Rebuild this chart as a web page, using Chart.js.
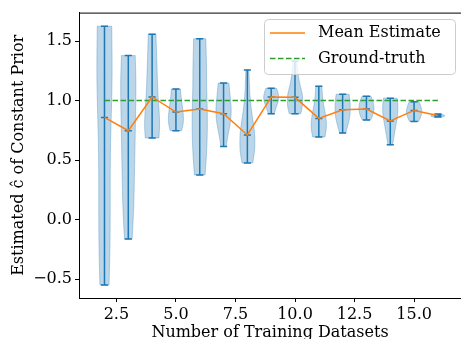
<!DOCTYPE html>
<html>
<head>
<meta charset="utf-8">
<script src="https://cdn.jsdelivr.net/npm/chart.js@4.4.0/dist/chart.umd.min.js"></script>
<style>
    html, body { margin: 0; padding: 0; background: #fff; }
    #wrap { width: 461px; height: 339px; }
</style>
</head>
<body>
<div id="wrap"><canvas id="chart" width="461" height="339"></canvas></div>
<script>
// number of training datasets
const positions = [2, 3, 4, 5, 6, 7, 8, 9, 10, 11, 12, 13, 14, 15, 16];
const maxVals = [1.625, 1.378, 1.558, 1.097, 1.52, 1.147, 1.256, 1.103, 1.33, 1.12, 1.053, 1.036, 1.02, 0.99, 0.886];
const minVals = [-0.55, -0.164, 0.686, 0.747, 0.375, 0.614, 0.475, 0.889, 0.889, 0.694, 0.728, 0.836, 0.628, 0.825, 0.861];
const meanVals = [0.858, 0.747, 1.03, 0.903, 0.928, 0.89, 0.711, 1.03, 1.027, 0.85, 0.922, 0.928, 0.828, 0.917, 0.875];
const groundTruth = 1.0;

// violin half-width profile, bottom (min) to top (max), relative to widest point
const violinShapes = [
    [0.6, 0.7, 0.75, 0.75, 0.75, 0.8, 0.9, 1.0, 1.0, 0.95],
    [0.5, 0.65, 0.75, 0.8, 0.85, 0.9, 0.95, 1.0, 1.0, 0.9],
    [0.9, 1.0, 0.95, 0.85, 0.75, 0.7, 0.65, 0.6, 0.55, 0.5],
    [0.75, 0.95, 1.0, 0.95, 0.85, 0.75, 0.65, 0.6],
    [0.7, 0.85, 0.95, 1.0, 1.0, 0.95, 0.9, 0.9, 0.85, 0.8],
    [0.35, 0.5, 0.7, 0.9, 1.0, 1.0, 0.9, 0.8, 0.7],
    [0.7, 0.95, 1.0, 0.95, 0.75, 0.55, 0.4, 0.3, 0.25, 0.2],
    [0.4, 0.55, 0.75, 0.95, 1.0, 0.9, 0.7],
    [0.75, 0.95, 1.0, 1.0, 0.85, 0.65, 0.5, 0.4, 0.3, 0.25],
    [0.8, 1.0, 1.0, 0.9, 0.7, 0.55, 0.45, 0.4],
    [0.4, 0.6, 0.8, 0.95, 1.0, 1.0, 0.95, 0.85],
    [0.55, 0.8, 0.95, 1.0, 0.95, 0.8, 0.6],
    [0.3, 0.45, 0.6, 0.75, 0.9, 1.0, 1.0, 0.9],
    [0.6, 0.85, 1.0, 1.0, 0.85, 0.65],
    [0.6, 1.0, 0.8, 0.5]
];

const xTicks = [2.5, 5.0, 7.5, 10.0, 12.5, 15.0];
const yTicks = [-0.5, 0.0, 0.5, 1.0, 1.5];

const FONT = "'DejaVu Serif', serif";
const BLUE = '#1f77b4';
const VIOLIN_HALF = 0.32;
const CAP_HALF = 0.15;

function fmt(v) {
    return v.toFixed(1).replace('-', '\u2212');
}

function smoothPath(ctx, pts, start) {
    if (start) ctx.moveTo(pts[0][0], pts[0][1]);
    else ctx.lineTo(pts[0][0], pts[0][1]);
    for (let i = 1; i < pts.length - 1; i++) {
        const mx = (pts[i][0] + pts[i + 1][0]) / 2;
        const my = (pts[i][1] + pts[i + 1][1]) / 2;
        ctx.quadraticCurveTo(pts[i][0], pts[i][1], mx, my);
    }
    const last = pts[pts.length - 1];
    ctx.lineTo(last[0], last[1]);
}

const violinPlugin = {
    id: 'violins',
    beforeDatasetsDraw(chart) {
        const ctx = chart.ctx;
        const xs = chart.scales.x;
        const ys = chart.scales.y;
        ctx.save();
        positions.forEach((pos, i) => {
            const shape = violinShapes[i];
            const n = shape.length;
            const lo = minVals[i], hi = maxVals[i];
            const right = [], left = [];
            for (let k = 0; k < n; k++) {
                const yv = lo + (hi - lo) * k / (n - 1);
                const w = shape[k] * VIOLIN_HALF;
                right.push([xs.getPixelForValue(pos + w), ys.getPixelForValue(yv)]);
                left.push([xs.getPixelForValue(pos - w), ys.getPixelForValue(yv)]);
            }
            ctx.beginPath();
            smoothPath(ctx, right, true);
            smoothPath(ctx, left.reverse(), false);
            ctx.closePath();
            ctx.fillStyle = 'rgba(31,119,180,0.3)';
            ctx.strokeStyle = 'rgba(31,119,180,0.3)';
            ctx.lineWidth = 1;
            ctx.fill();
            ctx.stroke();

            // bar + caps
            const px = xs.getPixelForValue(pos);
            const c0 = xs.getPixelForValue(pos - CAP_HALF);
            const c1 = xs.getPixelForValue(pos + CAP_HALF);
            ctx.strokeStyle = BLUE;
            ctx.lineWidth = 1.5;
            ctx.beginPath();
            ctx.moveTo(px, ys.getPixelForValue(lo));
            ctx.lineTo(px, ys.getPixelForValue(hi));
            [lo, hi, meanVals[i]].forEach(v => {
                const py = ys.getPixelForValue(v);
                ctx.moveTo(c0, py);
                ctx.lineTo(c1, py);
            });
            ctx.stroke();
        });
        ctx.restore();
    },
    afterDraw(chart) {
        const ctx = chart.ctx;
        const area = chart.chartArea;
        ctx.save();
        // top spine
        ctx.strokeStyle = '#000';
        ctx.lineWidth = 1;
        ctx.beginPath();
        ctx.moveTo(area.left, area.top + 0.5);
        ctx.lineTo(area.right, area.top + 0.5);
        ctx.stroke();

        // legend inside the axes, upper right
        const bx = 264, by = 19, bw = 191, bh = 55;
        ctx.beginPath();
        ctx.roundRect(bx + 0.5, by + 0.5, bw, bh, 4);
        ctx.fillStyle = 'rgba(255,255,255,0.8)';
        ctx.fill();
        ctx.strokeStyle = '#cccccc';
        ctx.stroke();
        ctx.font = '16px ' + FONT;
        ctx.textBaseline = 'middle';
        ctx.fillStyle = '#000';
        chart.data.datasets.forEach((ds, i) => {
            const ly = by + 14 + i * 25.5;
            ctx.strokeStyle = ds.borderColor;
            ctx.lineWidth = ds.borderWidth;
            ctx.setLineDash(ds.borderDash || []);
            ctx.beginPath();
            ctx.moveTo(bx + 6, ly);
            ctx.lineTo(bx + 41, ly);
            ctx.stroke();
            ctx.setLineDash([]);
            ctx.fillText(ds.label, bx + 54, ly);
        });
        ctx.restore();
    }
};

new Chart(document.getElementById('chart'), {
    type: 'line',
    data: {
        datasets: [
            {
                label: 'Mean Estimate',
                data: positions.map((p, i) => ({ x: p, y: meanVals[i] })),
                borderColor: '#ff7f0e',
                borderWidth: 1.5,
                pointRadius: 0,
                fill: false,
                tension: 0
            },
            {
                label: 'Ground-truth',
                data: [
                    { x: positions[0], y: groundTruth },
                    { x: positions[positions.length - 1], y: groundTruth }
                ],
                borderColor: '#2ca02c',
                borderWidth: 1.5,
                borderDash: [5.5, 2.5],
                pointRadius: 0,
                fill: false
            }
        ]
    },
    options: {
        responsive: false,
        animation: false,
        layout: { padding: { top: 11, right: 0, left: 0, bottom: 0 } },
        plugins: {
            legend: { display: false },
            tooltip: { enabled: false }
        },
        scales: {
            x: {
                type: 'linear',
                min: 0.93,
                max: 16.97,
                afterBuildTicks: scale => {
                    scale.ticks = xTicks.map(v => ({ value: v }));
                },
                afterFit: scale => { scale.height = 41; },
                ticks: {
                    color: '#000',
                    font: { family: FONT, size: 16 },
                    padding: 3,
                    maxRotation: 0,
                    callback: v => fmt(v)
                },
                grid: {
                    drawOnChartArea: false,
                    drawTicks: true,
                    tickLength: 4,
                    tickColor: '#000'
                },
                border: { color: '#000', width: 1 },
                title: {
                    display: true,
                    text: 'Number of Training Datasets',
                    color: '#000',
                    font: { family: FONT, size: 16 },
                    padding: { top: 0, bottom: -3 }
                }
            },
            y: {
                type: 'linear',
                min: -0.659,
                max: 1.739,
                afterBuildTicks: scale => {
                    scale.ticks = yTicks.map(v => ({ value: v }));
                },
                afterFit: scale => { scale.width = 79; },
                ticks: {
                    color: '#000',
                    font: { family: FONT, size: 16 },
                    padding: 3,
                    callback: v => fmt(v)
                },
                grid: {
                    drawOnChartArea: false,
                    drawTicks: true,
                    tickLength: 4,
                    tickColor: '#000'
                },
                border: { color: '#000', width: 1 },
                title: {
                    display: true,
                    text: 'Estimated \u0109 of Constant Prior',
                    color: '#000',
                    font: { family: FONT, size: 16 },
                    padding: { top: 9, bottom: 0 }
                }
            }
        }
    },
    plugins: [violinPlugin]
});
</script>
</body>
</html>
